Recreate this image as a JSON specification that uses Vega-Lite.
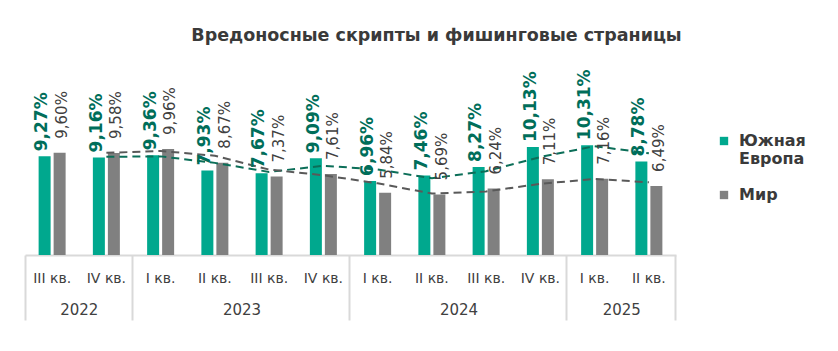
{
  "$schema": "https://vega.github.io/schema/vega-lite/v6.json",
  "width": 651,
  "height": 213,
  "autosize": "none",
  "padding": {"left": 25, "top": 42, "right": 162, "bottom": 96},
  "background": "white",
  "config": {
    "view": {"stroke": null},
    "font": "DejaVu Sans",
    "locale": {"number": {"decimal": ",", "thousands": " ", "grouping": [3], "currency": ["", ""]}}
  },
  "title": {
    "text": "Вредоносные скрипты и фишинговые страницы",
    "font": "DejaVu Sans",
    "fontSize": 17.5,
    "fontWeight": "bold",
    "color": "#3a3a3a",
    "anchor": "middle",
    "dx": 86,
    "offset": -2
  },
  "data": {
    "values": [
      {"q": "2022-III", "series": "Южная Европа", "value": 0.0927, "ma": null},
      {"q": "2022-IV", "series": "Южная Европа", "value": 0.0916, "ma": 0.0922},
      {"q": "2023-I", "series": "Южная Европа", "value": 0.0936, "ma": 0.0926},
      {"q": "2023-II", "series": "Южная Европа", "value": 0.0793, "ma": 0.0865},
      {"q": "2023-III", "series": "Южная Европа", "value": 0.0767, "ma": 0.0780},
      {"q": "2023-IV", "series": "Южная Европа", "value": 0.0909, "ma": 0.0838},
      {"q": "2024-I", "series": "Южная Европа", "value": 0.0696, "ma": 0.0803},
      {"q": "2024-II", "series": "Южная Европа", "value": 0.0746, "ma": 0.0721},
      {"q": "2024-III", "series": "Южная Европа", "value": 0.0827, "ma": 0.0787},
      {"q": "2024-IV", "series": "Южная Европа", "value": 0.1013, "ma": 0.0920},
      {"q": "2025-I", "series": "Южная Европа", "value": 0.1031, "ma": 0.1022},
      {"q": "2025-II", "series": "Южная Европа", "value": 0.0878, "ma": 0.0955},
      {"q": "2022-III", "series": "Мир", "value": 0.0960, "ma": null},
      {"q": "2022-IV", "series": "Мир", "value": 0.0958, "ma": 0.0959},
      {"q": "2023-I", "series": "Мир", "value": 0.0996, "ma": 0.0977},
      {"q": "2023-II", "series": "Мир", "value": 0.0867, "ma": 0.0932},
      {"q": "2023-III", "series": "Мир", "value": 0.0737, "ma": 0.0802},
      {"q": "2023-IV", "series": "Мир", "value": 0.0761, "ma": 0.0749},
      {"q": "2024-I", "series": "Мир", "value": 0.0584, "ma": 0.0673},
      {"q": "2024-II", "series": "Мир", "value": 0.0569, "ma": 0.0577},
      {"q": "2024-III", "series": "Мир", "value": 0.0624, "ma": 0.0597},
      {"q": "2024-IV", "series": "Мир", "value": 0.0711, "ma": 0.0668},
      {"q": "2025-I", "series": "Мир", "value": 0.0716, "ma": 0.0714},
      {"q": "2025-II", "series": "Мир", "value": 0.0649, "ma": 0.0683}
    ]
  },
  "resolve": {"scale": {"x": "independent", "xOffset": "independent"}},
  "layer": [
    {
      "mark": {"type": "bar"},
      "encoding": {
        "x": {
          "field": "q", "type": "nominal", "sort": null,
          "scale": {"type": "band", "domain": ["2022-III","2022-IV","2023-I","2023-II","2023-III","2023-IV","2024-I","2024-II","2024-III","2024-IV","2025-I","2025-II"], "paddingInner": 0, "paddingOuter": 0},
          "axis": {
            "orient": "bottom",
            "title": null, "labelExpr": "split(datum.label, '-')[1] + ' кв.'",
            "labelAngle": 0, "ticks": false, "tickSize": 0, "labelPadding": 16,
            "labelFont": "DejaVu Sans", "labelFontSize": 14, "labelColor": "#404040",
            "labelOverlap": false, "domainColor": "#d9d9d9", "domainWidth": 2, "grid": false
          }
        },
        "xOffset": {"field": "series", "type": "nominal", "scale": {"domain": ["Южная Европа", "Мир"], "paddingInner": 0.2, "paddingOuter": 0.908}},
        "y": {"field": "value", "type": "quantitative", "scale": {"domain": [0, 0.2]}, "axis": null},
        "color": {
          "field": "series", "type": "nominal",
          "scale": {"domain": ["Южная Европа", "Мир"], "range": ["#00a88e", "#808080"]},
          "legend": {
            "title": null, "orient": "none", "legendX": 691, "legendY": 91,
            "symbolType": "square", "symbolSize": 70, "symbolStrokeWidth": 0,
            "labelFont": "DejaVu Sans", "labelFontSize": 16, "labelFontWeight": "bold", "labelColor": "#3a3a3a",
            "labelExpr": "datum.label === 'Южная Европа' ? ['Южная', 'Европа'] : datum.label",
            "labelOffset": 7, "rowPadding": 20, "labelLimit": 200
          }
        }
      }
    },
    {
      "transform": [{"filter": "datum.series === 'Южная Европа'"}],
      "mark": {"type": "line", "strokeDash": [8, 5], "strokeWidth": 2, "color": "#0b6e58"},
      "encoding": {
        "x": {
          "field": "q", "type": "nominal", "sort": null,
          "scale": {"type": "band", "domain": ["2022-III","2022-IV","2023-I","2023-II","2023-III","2023-IV","2024-I","2024-II","2024-III","2024-IV","2025-I","2025-II"], "paddingInner": 0, "paddingOuter": 0},
          "axis": {
            "orient": "bottom",
            "title": null, "values": ["2022-III", "2023-II", "2024-II", "2025-I"],
            "labelExpr": "split(datum.label, '-')[0]",
            "labelOffset": 27.125,
            "labelAngle": 0, "labelFont": "DejaVu Sans", "labelFontSize": 15, "labelColor": "#404040",
            "labelPadding": -18, "labelOverlap": false,
            "ticks": true, "tickSize": 65, "tickWidth": 2, "tickOpacity": 0,
            "domain": false, "grid": false
          }
        },
        "y": {"field": "ma", "type": "quantitative", "scale": {"domain": [0, 0.2]}}
      }
    },
    {
      "transform": [{"filter": "datum.series === 'Мир'"}],
      "mark": {"type": "line", "strokeDash": [8, 5], "strokeWidth": 2, "color": "#595959"},
      "encoding": {
        "x": {
          "field": "q", "type": "nominal", "sort": null,
          "scale": {"type": "band", "domain": ["2022-III","2022-IV","2023-I","2023-II","2023-III","2023-IV","2024-I","2024-II","2024-III","2024-IV","2025-I","2025-II"], "paddingInner": 0, "paddingOuter": 0},
          "axis": {
            "orient": "bottom",
            "title": null, "values": ["2022-III"],
            "bandPosition": 0, "labels": false,
            "domain": false, "grid": false,
            "ticks": true, "tickSize": 65, "tickWidth": 2, "tickColor": "#d9d9d9"
          }
        },
        "y": {"field": "ma", "type": "quantitative", "scale": {"domain": [0, 0.2]}}
      }
    },
    {
      "encoding": {
        "x": {
          "field": "q", "type": "nominal", "sort": null,
          "scale": {"type": "band", "domain": ["2022-III","2022-IV","2023-I","2023-II","2023-III","2023-IV","2024-I","2024-II","2024-III","2024-IV","2025-I","2025-II"], "paddingInner": 0, "paddingOuter": 0},
          "axis": {
            "orient": "bottom",
            "title": null, "values": ["2022-IV", "2023-IV", "2024-IV", "2025-II"],
            "bandPosition": 0.985, "labels": false, "domain": false, "grid": false,
            "ticks": true, "tickSize": 65, "tickWidth": 2, "tickColor": "#d9d9d9"
          }
        },
        "xOffset": {"field": "series", "type": "nominal", "scale": {"domain": ["Южная Европа", "Мир"], "paddingInner": 0.2, "paddingOuter": 0.908}},
        "y": {"field": "value", "type": "quantitative", "scale": {"domain": [0, 0.2]}},
        "text": {"field": "value", "type": "quantitative", "format": ".2%"}
      },
      "layer": [
        {
          "transform": [{"filter": "datum.series === 'Южная Европа'"}],
          "mark": {"type": "text", "angle": 270, "align": "left", "baseline": "middle", "dx": 5, "font": "DejaVu Sans", "fontSize": 17, "fontWeight": "bold", "color": "#006e5a"}
        },
        {
          "transform": [{"filter": "datum.series === 'Мир'"}],
          "mark": {"type": "text", "angle": 270, "align": "left", "baseline": "middle", "dx": 14, "font": "DejaVu Sans", "fontSize": 15, "fontWeight": "normal", "color": "#404040"}
        }
      ]
    }
  ]
}
